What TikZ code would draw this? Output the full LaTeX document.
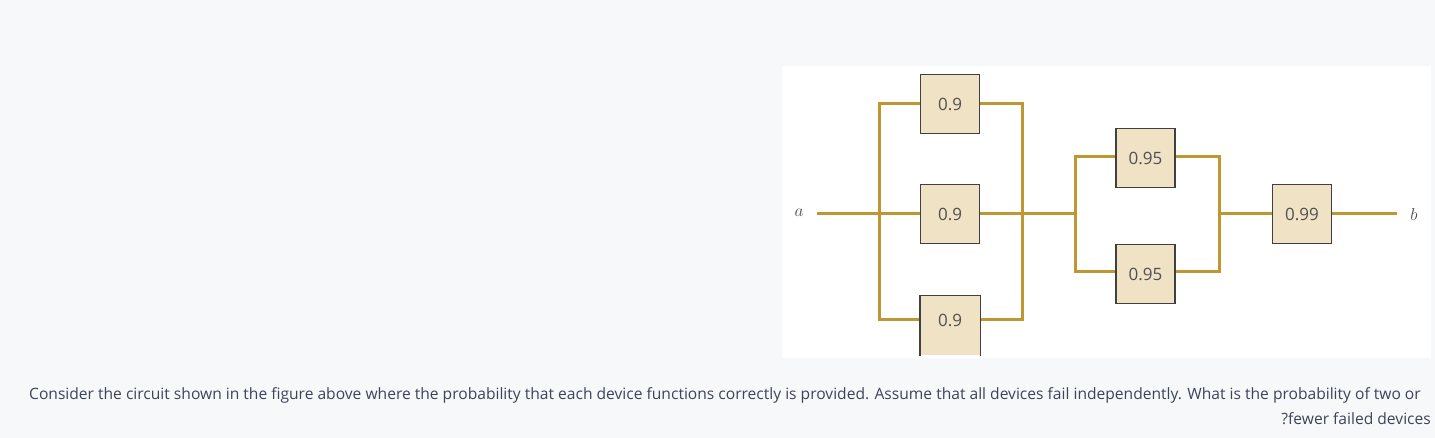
\documentclass[tikz,border=0pt]{standalone}
\usepackage{fontspec}
\setmainfont{Open Sans}
\definecolor{bg}{RGB}{247,248,250}
\definecolor{wire}{RGB}{190,150,50}
\definecolor{boxf}{RGB}{240,226,197}
\definecolor{txt}{RGB}{60,68,88}
\definecolor{lbl}{RGB}{80,80,80}
\begin{document}
\begin{tikzpicture}[x=1pt,y=-1pt,
  wireline/.style={draw=wire,line width=3pt},
  dev/.style={draw=black!75,line width=1.2pt,fill=boxf,minimum width=59pt,minimum height=59pt,inner sep=0pt,font=\fontsize{17}{17}\selectfont,text=lbl},
  term/.style={font=\fontsize{18}{18}\selectfont,text=black!70}]
\fill[bg] (0,0) rectangle (1435,438);
\useasboundingbox (0,0) rectangle (1435,438);
\fill[white] (782,66) rectangle (1431,358);
\node[term] (a) at (799,213) {$a$};
\node[term] (b) at (1414,215) {$b$};
\coordinate (as) at (817,214);
\coordinate (be) at (1397,214);
\coordinate (L1t) at (879,104); \coordinate (L1m) at (879,214); \coordinate (L1b) at (879,320);
\coordinate (R1t) at (1022,104); \coordinate (R1m) at (1022,214); \coordinate (R1b) at (1022,320);
\coordinate (L2t) at (1075,157); \coordinate (L2m) at (1075,214); \coordinate (L2b) at (1075,272);
\coordinate (R2t) at (1219,157); \coordinate (R2m) at (1219,214); \coordinate (R2b) at (1219,272);
\draw[wireline] (as) -- (L2m);
\draw[wireline] (R2m) -- (be);
\draw[wireline] (L1b) -- (L1t) -- (R1t) -- (R1b) -- cycle;
\draw[wireline] (L2b) -- (L2t) -- (R2t) -- (R2b) -- cycle;
\node[dev] (d1) at (950,104) {0.9};
\node[dev] (d2) at (950,214) {0.9};
\begin{scope}
\clip (782,66) rectangle (1431,358);
\node[dev,draw=none] (d3) at (950,325.5) {};
\draw[draw=black!75,line width=1.2pt] (d3.south west) -- (d3.north west) -- (d3.north east) -- (d3.south east);
\end{scope}
\node[font=\fontsize{17}{17}\selectfont,text=lbl] at (950,320) {0.9};
\node[dev] (d4) at (1145.5,158) {0.95};
\node[dev] (d5) at (1145.5,274) {0.95};
\node[dev] (d6) at (1302,214) {0.99};
\node[anchor=west,text=txt,font=\fontsize{15.6}{15.6}\selectfont,inner sep=0pt] (t1) at (29,395) {Consider the circuit shown in the figure above where the probability that each device functions correctly is provided. Assume that all devices fail independently. What is the probability of two or};
\node[anchor=east,text=txt,font=\fontsize{15.6}{15.6}\selectfont,inner sep=0pt] (t2) at (1431,419) {?fewer failed devices};
\end{tikzpicture}
\end{document}
